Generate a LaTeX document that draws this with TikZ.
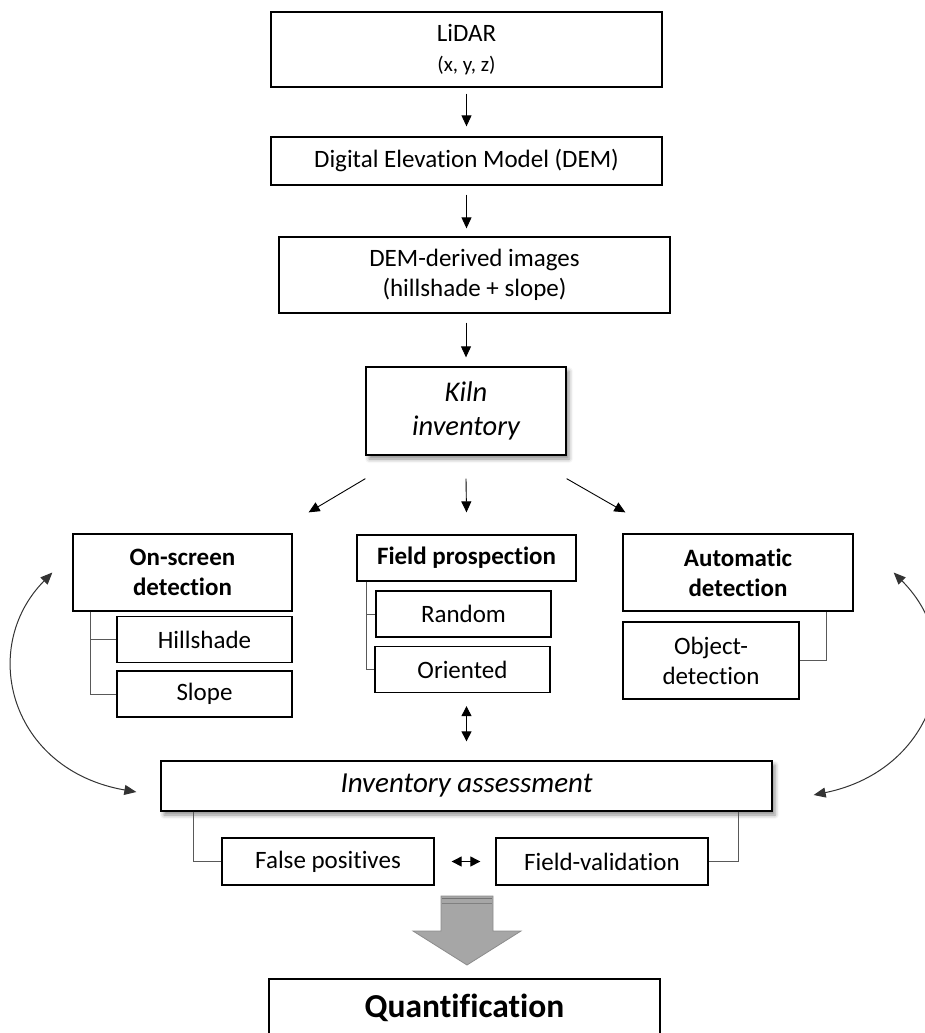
\documentclass[tikz,border=0pt]{standalone}
\usepackage{fontspec}
\setmainfont{Carlito}[Ligatures={NoCommon}]
\usepackage{tikz}
\usetikzlibrary{arrows.meta}
\usetikzlibrary{shadows.blur}

\tikzset{
	box/.style={draw=black, line width=1.3pt, fill=white, inner sep=0pt, align=center, font=\fontsize{25}{30}\selectfont},
	head/.style={box, font=\bfseries\fontsize{25}{30}\selectfont},
	sub/.style={box, minimum width=175pt, minimum height=46pt},
	shade/.style={blur shadow={shadow xshift=3pt, shadow yshift=-4pt, shadow blur radius=4pt, shadow opacity=45}},
	arr/.style={-{Triangle[length=11pt,width=10pt]}, line width=0.9pt},
	dbl/.style={{Triangle[length=10pt,width=10pt]}-{Triangle[length=10pt,width=10pt]}, line width=1pt},
	arc/.style={{Triangle[length=12pt,width=10pt]}-{Triangle[length=12pt,width=10pt]}, line width=1pt, draw=black!80},
	tree/.style={draw=black!65, line width=1pt},
}

\begin{document}
\begin{tikzpicture}[x=1pt,y=-1pt]
			\useasboundingbox (0,0) rectangle (924,1033);

			\node[box, minimum width=391pt, minimum height=75pt] (lidar) at (466.5,49.5) {{\fontsize{25}{29}\selectfont LiDAR}\\{\fontsize{21}{29}\selectfont (x, y, z)}};
			\node[box, minimum width=391pt, minimum height=48pt] (dem) at (466.5,161) {Digital Elevation Model (DEM)};
			\node[box, minimum width=391pt, minimum height=76pt] (img) at (474.5,275) {DEM-derived images\\(hillshade + slope)};
			\node[box, shade, minimum width=200pt, minimum height=88pt, font=\itshape\fontsize{28.5}{34}\selectfont] (kiln) at (466,411) {Kiln\\inventory};

			\node[head, minimum width=219pt, minimum height=77pt] (osd) at (182.5,572.5) {On-screen\\detection};
			\node[sub] (hs) at (204.5,639.5) {Hillshade};
			\node[sub] (sl) at (204.5,694) {Slope};

			\node[head, minimum width=219pt, minimum height=46pt] (fp) at (466.5,558) {Field prospection};
			\node[sub] (rnd) at (463.5,614) {Random};
			\node[sub] (ori) at (462.5,669.5) {Oriented};

			\node[head, minimum width=230pt, minimum height=77pt] (ad) at (738,572.5) {Automatic\\detection};
			\node[box, minimum width=176pt, minimum height=77pt] (od) at (711,660.5) {Object-\\detection};

			\node[box, shade, minimum width=611pt, minimum height=50pt, font=\itshape\fontsize{29}{34}\selectfont] (ia) at (466.5,786) {Inventory assessment};
			\node[box, minimum width=212pt, minimum height=47pt] (fpos) at (328,861.5) {False positives};
			\node[box, minimum width=212pt, minimum height=47pt] (fval) at (602,861.5) {Field-validation};

			\node[box, minimum width=391pt, minimum height=58pt, font=\bfseries\fontsize{33.5}{40}\selectfont] (quant) at (464.5,1008) {Quantification};

			%% lines
			\draw[arr, shorten <=6pt, shorten >=10pt] (lidar) -- (dem);
			\draw[arr, shorten <=9pt, shorten >=8pt] (dem.south) -- (dem.south |- img.north);
			\draw[arr, shorten <=9pt, shorten >=9pt] (img.south -| kiln.north) -- (kiln.north);
			\draw[arr] ([yshift=-23pt]kiln.south west) -- ([xshift=16pt,yshift=21pt]osd.north east);
			\draw[arr] ([yshift=-23pt]kiln.south) -- ([yshift=22pt]fp.north);
			\draw[arr] ([yshift=-23pt]kiln.south east) -- ([xshift=3pt,yshift=21pt]ad.north west);
			\draw[dbl] ([yshift=-13pt]ori.south -| ia.north) -- ([yshift=19pt]ia.north);
			\draw[dbl, shorten <=17pt, shorten >=15pt] (fpos) -- (fval);

			%% tree lines
			\draw[tree] ([xshift=18pt]osd.south west) |- (hs.west);
			\draw[tree] ([xshift=18pt]osd.south west) |- (sl.west);
			\draw[tree] ([xshift=10pt]fp.south west) |- (rnd.west);
			\draw[tree] ([xshift=10pt]fp.south west) |- (ori.west);
			\draw[tree] ([xshift=-27pt]ad.south east) |- (od.east);
			\draw[tree] ([xshift=33pt]ia.south west) |- (fpos.west);
			\draw[tree] ([xshift=-34pt]ia.south east) |- (fval.east);

			%% loops
			\coordinate (lt) at ([xshift=-20pt]osd.west);
			\coordinate (lb) at ([xshift=-24pt,yshift=-6pt]ia.west);
			\coordinate (rt) at ([xshift=40pt]ad.east);
			\coordinate (rb) at ([xshift=41pt,yshift=-9pt]ia.east);
			\draw[arc] (lb) .. controls (10,770) and (-22,648) .. (lt);
			\draw[arc] (rb) .. controls (936,770) and (971,650) .. (rt);

			%% big arrow
			\draw[draw=black!45, fill=black!35, line width=0.8pt] (441,896) -- (493,896) -- (493,931) -- (521,931) -- (467,965) -- (413,931) -- (441,931) -- cycle;
			\draw[black!55, line width=1.5pt] (442,898.5) -- (492,898.5);
			\draw[black!50, line width=1pt] (442,903) -- (492,903);
		\end{tikzpicture}
\end{document}
